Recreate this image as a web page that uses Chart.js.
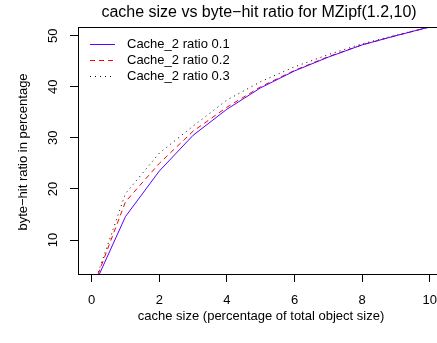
<!DOCTYPE html>
<html>
<head>
<meta charset="utf-8">
<script src="https://cdn.jsdelivr.net/npm/chart.js@4"></script>
<style>
  html, body { margin: 0; padding: 0; background: #fff; }
  #wrap { width: 437px; height: 343px; }
</style>
</head>
<body>
<div id="wrap"><canvas id="cacheChart" width="437" height="343"></canvas></div>
<script>
// Données
const cacheSizes = [0, 1, 2, 3, 4, 5, 6, 7, 8, 9, 10];
const ratio01 = [0, 14.6, 23.5, 30.5, 35.6, 39.8, 43.1, 45.8, 48.2, 50.0, 51.7];
const ratio02 = [0, 17.5, 25.0, 31.3, 36.0, 40.0, 43.2, 45.9, 48.2, 50.0, 51.7];
const ratio03 = [0, 19.1, 27.0, 32.3, 37.4, 41.0, 43.9, 46.3, 48.4, 50.1, 51.7];
const seriesLabels = ['Cache_2 ratio 0.1', 'Cache_2 ratio 0.2', 'Cache_2 ratio 0.3'];
const xTicks = [0, 2, 4, 6, 8, 10];
const yTicks = [10, 20, 30, 40, 50];

const titleText = 'cache size vs byte\u2212hit ratio for MZipf(1.2,10)';
const xTitle = 'cache size (percentage of total object size)';
const yTitle = 'byte\u2212hit ratio in percentage';

const fontFamily = "'Liberation Sans', Arial, Helvetica, sans-serif";

function toPoints(values) {
    return cacheSizes.map((x, i) => ({ x: x, y: values[i] }));
}

// Titre, cadre, étiquettes Y tournées et légende (style R)
const rStylePlugin = {
    id: 'rStyle',
    beforeDraw(chart) {
        const ctx = chart.ctx;
        ctx.save();
        ctx.fillStyle = '#fff';
        ctx.fillRect(0, 0, chart.width, chart.height);
        ctx.restore();
    },
    afterDraw(chart) {
        const ctx = chart.ctx;
        const area = chart.chartArea;
        const yScale = chart.scales.y;
        ctx.save();

        // cadre
        ctx.strokeStyle = '#000';
        ctx.lineWidth = 1;
        ctx.strokeRect(Math.round(area.left) + 0.5, Math.round(area.top) + 0.5,
            Math.round(area.right - area.left) + 5, Math.round(area.bottom - area.top));

        ctx.fillStyle = '#000';
        ctx.textAlign = 'center';
        ctx.textBaseline = 'middle';

        // titre
        ctx.font = '16px ' + fontFamily;
        ctx.fillText(titleText, 259, 13);

        // titre axe X
        ctx.font = '13px ' + fontFamily;
        ctx.fillText(xTitle, 261, 316);

        // titre axe Y
        ctx.save();
        ctx.translate(23, 152);
        ctx.rotate(-Math.PI / 2);
        ctx.fillText(yTitle, 0, 0);
        ctx.restore();

        // étiquettes Y
        yTicks.forEach(v => {
            ctx.save();
            ctx.translate(53, yScale.getPixelForValue(v));
            ctx.rotate(-Math.PI / 2);
            ctx.fillText(String(v), 0, 0);
            ctx.restore();
        });

        // légende
        const lx = area.left + 12;
        chart.data.datasets.forEach((ds, i) => {
            const ly = 44 + i * 16;
            ctx.beginPath();
            ctx.strokeStyle = ds.borderColor;
            ctx.lineWidth = 1;
            ctx.setLineDash(ds.borderDash || []);
            ctx.moveTo(lx, ly + 0.5);
            ctx.lineTo(lx + 25, ly + 0.5);
            ctx.stroke();
            ctx.setLineDash([]);
            ctx.textAlign = 'left';
            ctx.fillStyle = '#000';
            ctx.fillText(ds.label, lx + 37, ly);
        });

        ctx.restore();
    }
};

new Chart(document.getElementById('cacheChart'), {
    type: 'line',
    data: {
        datasets: [
            {
                label: seriesLabels[0],
                data: toPoints(ratio01),
                borderColor: '#5c00ff',
                borderWidth: 1,
                pointRadius: 0,
                tension: 0
            },
            {
                label: seriesLabels[1],
                data: toPoints(ratio02),
                borderColor: '#ff0000',
                borderWidth: 1,
                borderDash: [5, 4],
                pointRadius: 0,
                tension: 0
            },
            {
                label: seriesLabels[2],
                data: toPoints(ratio03),
                borderColor: '#000000',
                borderWidth: 1,
                borderDash: [1, 4],
                pointRadius: 0,
                tension: 0
            }
        ]
    },
    options: {
        responsive: false,
        devicePixelRatio: 1,
        animation: false,
        layout: { padding: { top: 27, left: 0, right: 0, bottom: 0 } },
        plugins: {
            legend: { display: false },
            title: { display: false },
            tooltip: { enabled: false }
        },
        scales: {
            x: {
                type: 'linear',
                min: -0.405,
                max: 10.216,
                afterBuildTicks: s => { s.ticks = xTicks.map(v => ({ value: v })); },
                afterFit: s => {
                    s.height = 69;
                    s.paddingLeft = 0;
                    s.paddingRight = 0;
                },
                grid: {
                    display: true,
                    drawOnChartArea: false,
                    drawTicks: true,
                    tickLength: 8,
                    color: '#000'
                },
                border: { display: true, color: '#000' },
                ticks: {
                    color: '#000',
                    padding: 11,
                    maxRotation: 0,
                    font: { family: fontFamily, size: 13 }
                }
            },
            y: {
                type: 'linear',
                min: 3.35,
                max: 51.7,
                afterBuildTicks: s => { s.ticks = yTicks.map(v => ({ value: v })); },
                afterFit: s => {
                    s.width = 78;
                    s.paddingTop = 0;
                    s.paddingBottom = 0;
                },
                grid: {
                    display: true,
                    drawOnChartArea: false,
                    drawTicks: true,
                    tickLength: 8,
                    color: '#000'
                },
                border: { display: true, color: '#000' },
                ticks: { display: false }
            }
        }
    },
    plugins: [rStylePlugin]
});
</script>
</body>
</html>
